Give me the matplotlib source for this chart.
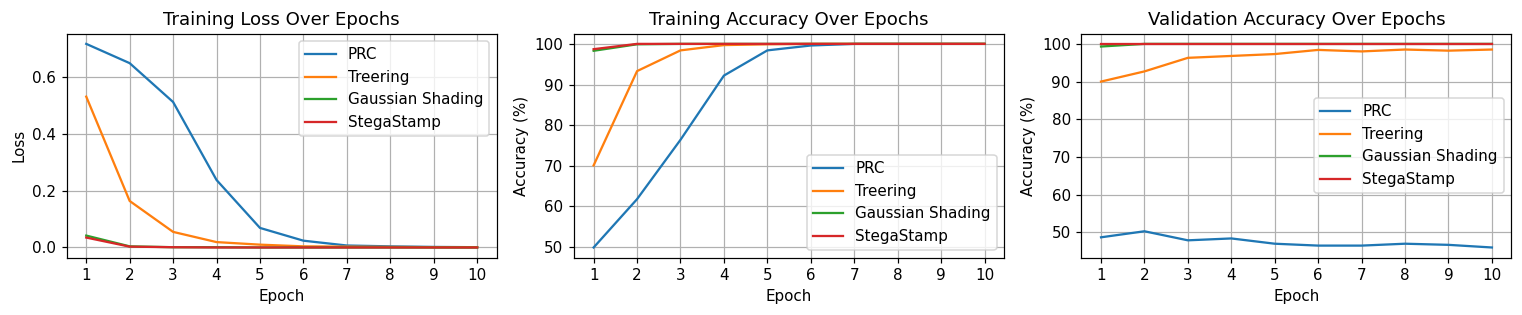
import numpy as np
import matplotlib
matplotlib.use("Agg")
import matplotlib.pyplot as plt

epochs = list(range(1, 11))
methods = ["PRC", "Treering", "Gaussian Shading", "StegaStamp"]

# training loss
loss_prc = [0.718, 0.650, 0.513, 0.238, 0.069, 0.024, 0.007, 0.004, 0.002, 0.001]
loss_treering = [0.532, 0.164, 0.055, 0.019, 0.010, 0.004, 0.003, 0.002, 0.001, 0.001]
loss_gauss = [0.042, 0.004, 0.001, 0.001, 0.0, 0.0, 0.0, 0.0, 0.0, 0.0]
loss_stega = [0.035, 0.003, 0.001, 0.0, 0.0, 0.0, 0.0, 0.0, 0.0, 0.0]

# training accuracy (%)
tacc_prc = [49.9, 61.8, 76.4, 92.2, 98.4, 99.6, 100.0, 100.0, 100.0, 100.0]
tacc_treering = [70.1, 93.3, 98.4, 99.7, 99.9, 100.0, 100.0, 100.0, 100.0, 100.0]
tacc_gauss = [98.3, 99.9, 100.0, 100.0, 100.0, 100.0, 100.0, 100.0, 100.0, 100.0]
tacc_stega = [98.7, 100.0, 100.0, 100.0, 100.0, 100.0, 100.0, 100.0, 100.0, 100.0]

# validation accuracy (%)
vacc_prc = [48.7, 50.3, 47.9, 48.4, 47.0, 46.5, 46.5, 47.0, 46.7, 46.0]
vacc_treering = [90.0, 92.7, 96.3, 96.8, 97.3, 98.4, 98.0, 98.5, 98.2, 98.5]
vacc_gauss = [99.3, 100.0, 100.0, 100.0, 100.0, 100.0, 100.0, 100.0, 100.0, 100.0]
vacc_stega = [100.0, 100.0, 100.0, 100.0, 100.0, 100.0, 100.0, 100.0, 100.0, 100.0]

fig, axes = plt.subplots(1, 3, figsize=(13.97, 2.89), dpi=109)

panels = [
    (axes[0], [loss_prc, loss_treering, loss_gauss, loss_stega], "Training Loss Over Epochs", "Loss", "upper right"),
    (axes[1], [tacc_prc, tacc_treering, tacc_gauss, tacc_stega], "Training Accuracy Over Epochs", "Accuracy (%)", "lower right"),
    (axes[2], [vacc_prc, vacc_treering, vacc_gauss, vacc_stega], "Validation Accuracy Over Epochs", "Accuracy (%)", "center right"),
]

for ax, series, title, ylabel, loc in panels:
    for name, vals in zip(methods, series):
        ax.plot(epochs, vals, label=name)
    ax.set_title(title)
    ax.set_xlabel("Epoch")
    ax.set_ylabel(ylabel)
    ax.set_xticks(epochs)
    ax.grid(True)
    ax.legend(loc=loc)

plt.subplots_adjust(left=0.0438, right=0.9926, top=0.893, bottom=0.182, wspace=0.18)
plt.savefig("out.png")
